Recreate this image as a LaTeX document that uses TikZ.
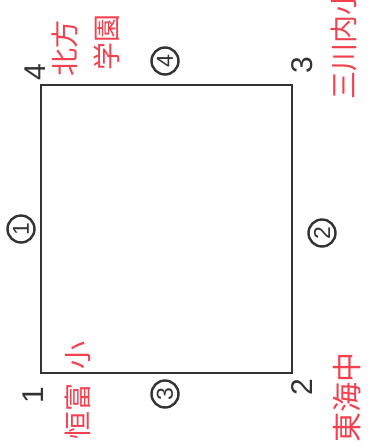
\documentclass[tikz,border=0pt]{standalone}
\usepackage{fontspec}
\setmainfont{Liberation Sans}
\newfontfamily\jpfont{Noto Sans CJK JP}
\usepackage{tikz}
\usetikzlibrary{positioning}
\definecolor{FrameGray}{HTML}{333333}
\definecolor{HandRed}{HTML}{F2404F}

\begin{document}
\begin{tikzpicture}[
      x=1pt, y=-1pt,
      frame/.style={draw=FrameGray, line width=2.8pt, line join=miter},
      corner/.style={font=\fontsize{30}{30}\selectfont, text=FrameGray, rotate=90, inner sep=0pt},
      side/.style={circle, draw=FrameGray, line width=2.4pt, minimum size=27pt, inner sep=0pt,
                   font=\fontsize{23}{23}\selectfont, text=FrameGray, rotate=90},
      school/.style={font=\jpfont\fontsize{28}{28}\selectfont, text=HandRed, rotate=90, inner sep=0pt}
  ]
      \useasboundingbox (0,0) rectangle (371,448);

      % Corners of the plot
      \coordinate (c1) at (41,373);
      \coordinate (c2) at (292,373);
      \coordinate (c3) at (292,85);
      \coordinate (c4) at (41,85);
      \draw[frame] (c1) -- (c2) -- (c3) -- (c4) -- cycle;

      % Corner numbers
      \node[corner] (n1) at (33,395) {1};
      \node[corner] (n2) at (302,387) {2};
      \node[corner] (n3) at (302,65) {3};
      \node[corner] (n4) at (35,72) {4};

      % Side numbers
      \node[side] (s1) at (21,229) {1};
      \node[side] (s2) at (322,233) {2};
      \node[side] (s3) at (165,394) {3};
      \node[side] (s4) at (165,61) {4};

      % Handwritten school names
      \node[school] (kou) at (78,411) {恒富};
      \node[school] (kouS) at (78,355) {小};
      \node[school] (hoppo) at (65,48) {北方};
      \node[school] (gakuen) at (107,42) {学園};
      \node[school] (mikawa) at (344,43) {三川内小};
      \node[school, font=\jpfont\fontsize{30}{30}\selectfont] (tokai) at (347,397) {東海中};
  \end{tikzpicture}
\end{document}
